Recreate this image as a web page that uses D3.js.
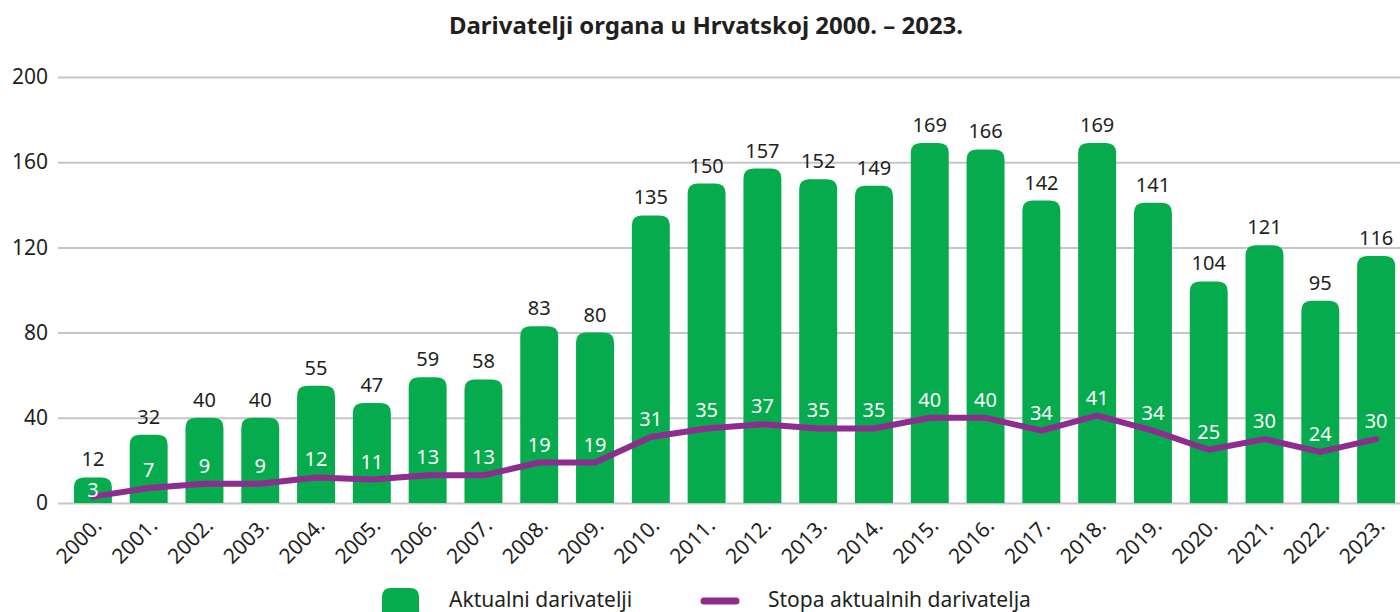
<!DOCTYPE html>
<html>
<head>
<meta charset="utf-8">
<script src="https://cdn.jsdelivr.net/npm/d3@7"></script>
<style>
  body { margin: 0; background: #fff; }
  svg { display: block; font-family: "Noto Sans", "Open Sans", sans-serif; }
</style>
</head>
<body>
<svg id="chart" width="1400" height="612"></svg>
<script>
const years = ['2000.', '2001.', '2002.', '2003.', '2004.', '2005.', '2006.', '2007.', '2008.', '2009.',
  '2010.', '2011.', '2012.', '2013.', '2014.', '2015.', '2016.', '2017.', '2018.', '2019.',
  '2020.', '2021.', '2022.', '2023.']
const donors = [12, 32, 40, 40, 55, 47, 59, 58, 83, 80, 135, 150, 157, 152, 149, 169, 166, 142, 169, 141, 104, 121, 95, 116]
const rate = [3, 7, 9, 9, 12, 11, 13, 13, 19, 19, 31, 35, 37, 35, 35, 40, 40, 34, 41, 34, 25, 30, 24, 30]
const yTicks = [0, 40, 80, 120, 160, 200]

const green = '#05ab4c'
const purple = '#8c2d8f'
const ink = '#231f20'

const svg = d3.select('#chart')

const x = d3.scaleBand().domain(years).range([65, 1404]).paddingInner(0.32).paddingOuter(0.16)
const y = d3.scaleLinear().domain([0, 200]).range([503, 77])

// title
svg.append('text')
  .attr('x', 706).attr('y', 34)
  .attr('text-anchor', 'middle')
  .attr('font-size', 24).attr('font-weight', 700)
  .attr('fill', ink)
  .text('Darivatelji organa u Hrvatskoj 2000. – 2023.')

// grid + y labels
const yAxis = svg.append('g')
  .attr('transform', 'translate(58,0)')
  .call(d3.axisLeft(y).tickValues(yTicks).tickSize(-1342).tickPadding(10))
yAxis.select('.domain').remove()
yAxis.selectAll('.tick line').attr('stroke', '#c6c6c8').attr('stroke-width', 2)
yAxis.selectAll('.tick text').attr('font-size', 21).attr('fill', ink).attr('font-family', '"Noto Sans", sans-serif')

// rounded-top bar path
const barPath = (x0, y0, w, h, r) => {
  r = Math.min(r, h, w / 2)
  return `M${x0},${y0 + h}V${y0 + r}Q${x0},${y0} ${x0 + r},${y0}H${x0 + w - r}Q${x0 + w},${y0} ${x0 + w},${y0 + r}V${y0 + h}Z`
}

svg.append('g').selectAll('path')
  .data(donors)
  .join('path')
  .attr('fill', green)
  .attr('d', (d, i) => barPath(x(years[i]), y(d), x.bandwidth(), y(0) - y(d), 10))

// bar value labels
svg.append('g').selectAll('text')
  .data(donors)
  .join('text')
  .attr('x', (d, i) => x(years[i]) + x.bandwidth() / 2)
  .attr('y', (d) => y(d) - 11)
  .attr('text-anchor', 'middle')
  .attr('font-size', 20)
  .attr('fill', ink)
  .text((d) => d)

// rate line
const line = d3.line()
  .x((d, i) => x(years[i]) + x.bandwidth() / 2)
  .y((d) => y(d))
svg.append('path')
  .datum(rate)
  .attr('fill', 'none')
  .attr('stroke', purple)
  .attr('stroke-width', 6)
  .attr('stroke-linejoin', 'round')
  .attr('stroke-linecap', 'round')
  .attr('d', line)

// rate labels sit just above the line, but stay inside short bars
svg.append('g').selectAll('text')
  .data(rate)
  .join('text')
  .attr('x', (d, i) => x(years[i]) + x.bandwidth() / 2)
  .attr('y', (d, i) => Math.max(y(d) - 11, y(donors[i]) + 20))
  .attr('text-anchor', 'middle')
  .attr('font-size', 20)
  .attr('fill', '#fff')
  .text((d) => d)

// x labels
svg.append('g').selectAll('text')
  .data(years)
  .join('text')
  .attr('transform', (d) => `translate(${x(d) + x.bandwidth() / 2 + 10},527) rotate(-45)`)
  .attr('text-anchor', 'end')
  .attr('font-size', 21)
  .attr('fill', ink)
  .text((d) => d)

// legend
const legend = svg.append('g')
legend.append('path')
  .attr('fill', green)
  .attr('d', barPath(382, 588, 37, 30, 9))
legend.append('text')
  .attr('x', 449).attr('y', 607)
  .attr('font-size', 21).attr('fill', ink)
  .text('Aktualni darivatelji')
legend.append('line')
  .attr('x1', 704).attr('x2', 736).attr('y1', 601).attr('y2', 601)
  .attr('stroke', purple).attr('stroke-width', 7).attr('stroke-linecap', 'round')
legend.append('text')
  .attr('x', 768).attr('y', 607)
  .attr('font-size', 21).attr('fill', ink)
  .text('Stopa aktualnih darivatelja')
</script>
</body>
</html>
